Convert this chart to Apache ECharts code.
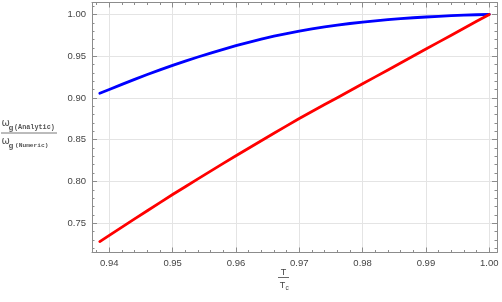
<!DOCTYPE html>
<html><head><meta charset="utf-8">
<script src="https://cdn.jsdelivr.net/npm/echarts@6/dist/echarts.min.js"></script>
<style>html,body{margin:0;padding:0;background:#fff}#c{width:502px;height:302px}</style>
</head><body><div id="c"></div>
<script>
// Data
const tValues = [0.9385, 0.940, 0.942, 0.944, 0.946, 0.948, 0.950, 0.952, 0.954, 0.956, 0.958,
                 0.960, 0.962, 0.964, 0.966, 0.968, 0.970, 0.972, 0.974, 0.976, 0.978,
                 0.980, 0.982, 0.984, 0.986, 0.988, 0.990, 0.992, 0.994, 0.996, 0.998, 1.000];
const blueRatio = [0.9055, 0.9100, 0.9162, 0.9222, 0.9280, 0.9336, 0.9390, 0.9441, 0.9490, 0.9537, 0.9582,
                   0.9625, 0.9665, 0.9703, 0.9739, 0.9770, 0.9799, 0.9826, 0.9850, 0.9872, 0.9891,
                   0.9908, 0.9923, 0.9937, 0.9949, 0.9960, 0.9969, 0.9977, 0.9985, 0.9991, 0.9996, 1.0000];
const redRatio  = [0.7280, 0.7354, 0.7453, 0.7551, 0.7649, 0.7746, 0.7843, 0.7937, 0.8030, 0.8123, 0.8216,
                   0.8308, 0.8397, 0.8487, 0.8576, 0.8665, 0.8754, 0.8837, 0.8920, 0.9003, 0.9086,
                   0.9169, 0.9252, 0.9335, 0.9418, 0.9501, 0.9585, 0.9668, 0.9751, 0.9834, 0.9917, 1.0000];
const xTickLabels = [0.94, 0.95, 0.96, 0.97, 0.98, 0.99, 1.00];
const yTickLabels = [0.75, 0.80, 0.85, 0.90, 0.95, 1.00];

const xMinorTicks = [];
for (let i = 938; i <= 1000; i += 2) { if (i % 10 !== 0) xMinorTicks.push(i / 1000); }
const yMinorTicks = [];
for (let i = 72; i <= 101; i += 1) { if (i % 5 !== 0) yMinorTicks.push(i / 100); }

const X_MIN = 0.93727, X_MAX = 1.00122, Y_MIN = 0.7149, Y_MAX = 1.01425;
const frameColor = '#8c8c8c';

function axis(kind, pos, values, len, labels, split, line) {
  return {
    type: 'value', position: pos,
    min: kind === 'x' ? X_MIN : Y_MIN, max: kind === 'x' ? X_MAX : Y_MAX,
    axisLine: { show: line, onZero: false, lineStyle: { color: frameColor, width: 1 } },
    axisTick: { show: true, inside: true, length: len, customValues: values, lineStyle: { color: frameColor, width: 1 } },
    axisLabel: labels ? { show: true, customValues: values, formatter: v => v.toFixed(2), fontSize: 9.5,
      fontFamily: 'Liberation Sans, Arial, sans-serif', color: '#444', margin: 6 } : { show: false },
    splitLine: { show: split, lineStyle: { color: '#e4e4e4', width: 1 } },
    minorTick: { show: false }, minorSplitLine: { show: false }
  };
}

const pairs = (xs, ys) => xs.map((x, i) => [x, ys[i]]);

const chart = echarts.init(document.getElementById('c'), null, { renderer: 'canvas' });
chart.setOption({
  animation: false,
  backgroundColor: '#fff',
  grid: { left: 92, right: 5, top: 2.5, bottom: 49.5, containLabel: false },
  xAxis: [
    axis('x', 'bottom', xTickLabels, 5, true, true, true),
    axis('x', 'bottom', xMinorTicks, 2.5, false, false, false),
    axis('x', 'top', xTickLabels, 5, false, false, true),
    axis('x', 'top', xMinorTicks, 2.5, false, false, false)
  ],
  yAxis: [
    axis('y', 'left', yTickLabels, 5, true, true, true),
    axis('y', 'left', yMinorTicks, 2.5, false, false, false),
    axis('y', 'right', yTickLabels, 5, false, false, true),
    axis('y', 'right', yMinorTicks, 2.5, false, false, false)
  ],
  series: [
    { type: 'line', xAxisIndex: 0, yAxisIndex: 0, data: pairs(tValues, blueRatio), smooth: false,
      showSymbol: false, lineStyle: { color: '#0000ff', width: 2.8, cap: 'round', join: 'round' }, z: 3 },
    { type: 'line', xAxisIndex: 0, yAxisIndex: 0, data: pairs(tValues, redRatio), smooth: false,
      showSymbol: false, lineStyle: { color: '#ff0000', width: 2.8, cap: 'round', join: 'round' }, z: 4 }
  ],
  graphic: [
    // y-axis name: ω_g(Analytic) / ω_g(Numeric)
    { type: 'text', x: 1.5, y: 123.5, style: { text: 'ω', font: '10px DejaVu Sans', fill: '#555', verticalAlign: 'middle' } },
    { type: 'text', x: 8.5, y: 127.5, style: { text: 'g', font: 'bold 8px Liberation Mono', fill: '#555', verticalAlign: 'middle' } },
    { type: 'text', x: 14, y: 127.5, style: { text: '(Analytic)', font: 'bold 6.8px Liberation Mono', fill: '#555', verticalAlign: 'middle' } },
    { type: 'line', shape: { x1: 1, y1: 133, x2: 57, y2: 133 }, style: { stroke: '#555', lineWidth: 0.8 } },
    { type: 'text', x: 1.5, y: 141.5, style: { text: 'ω', font: '10px DejaVu Sans', fill: '#555', verticalAlign: 'middle' } },
    { type: 'text', x: 8.5, y: 145.5, style: { text: 'g', font: 'bold 8px Liberation Mono', fill: '#555', verticalAlign: 'middle' } },
    { type: 'text', x: 15, y: 145.5, style: { text: '(Numeric)', font: 'bold 6.2px Liberation Mono', fill: '#555', verticalAlign: 'middle' } },
    // x-axis name: T / T_c
    { type: 'text', x: 283.5, y: 272.5, style: { text: 'T', font: '9px Liberation Sans', fill: '#444', align: 'center', verticalAlign: 'middle' } },
    { type: 'line', shape: { x1: 278, y1: 277.5, x2: 289, y2: 277.5 }, style: { stroke: '#444', lineWidth: 0.8 } },
    { type: 'text', x: 282.5, y: 285.5, style: { text: 'T', font: '9px Liberation Sans', fill: '#444', align: 'center', verticalAlign: 'middle' } },
    { type: 'text', x: 285.5, y: 288, style: { text: 'c', font: '6.5px Liberation Sans', fill: '#444', verticalAlign: 'middle' } }
  ]
});
</script>
</body></html>
